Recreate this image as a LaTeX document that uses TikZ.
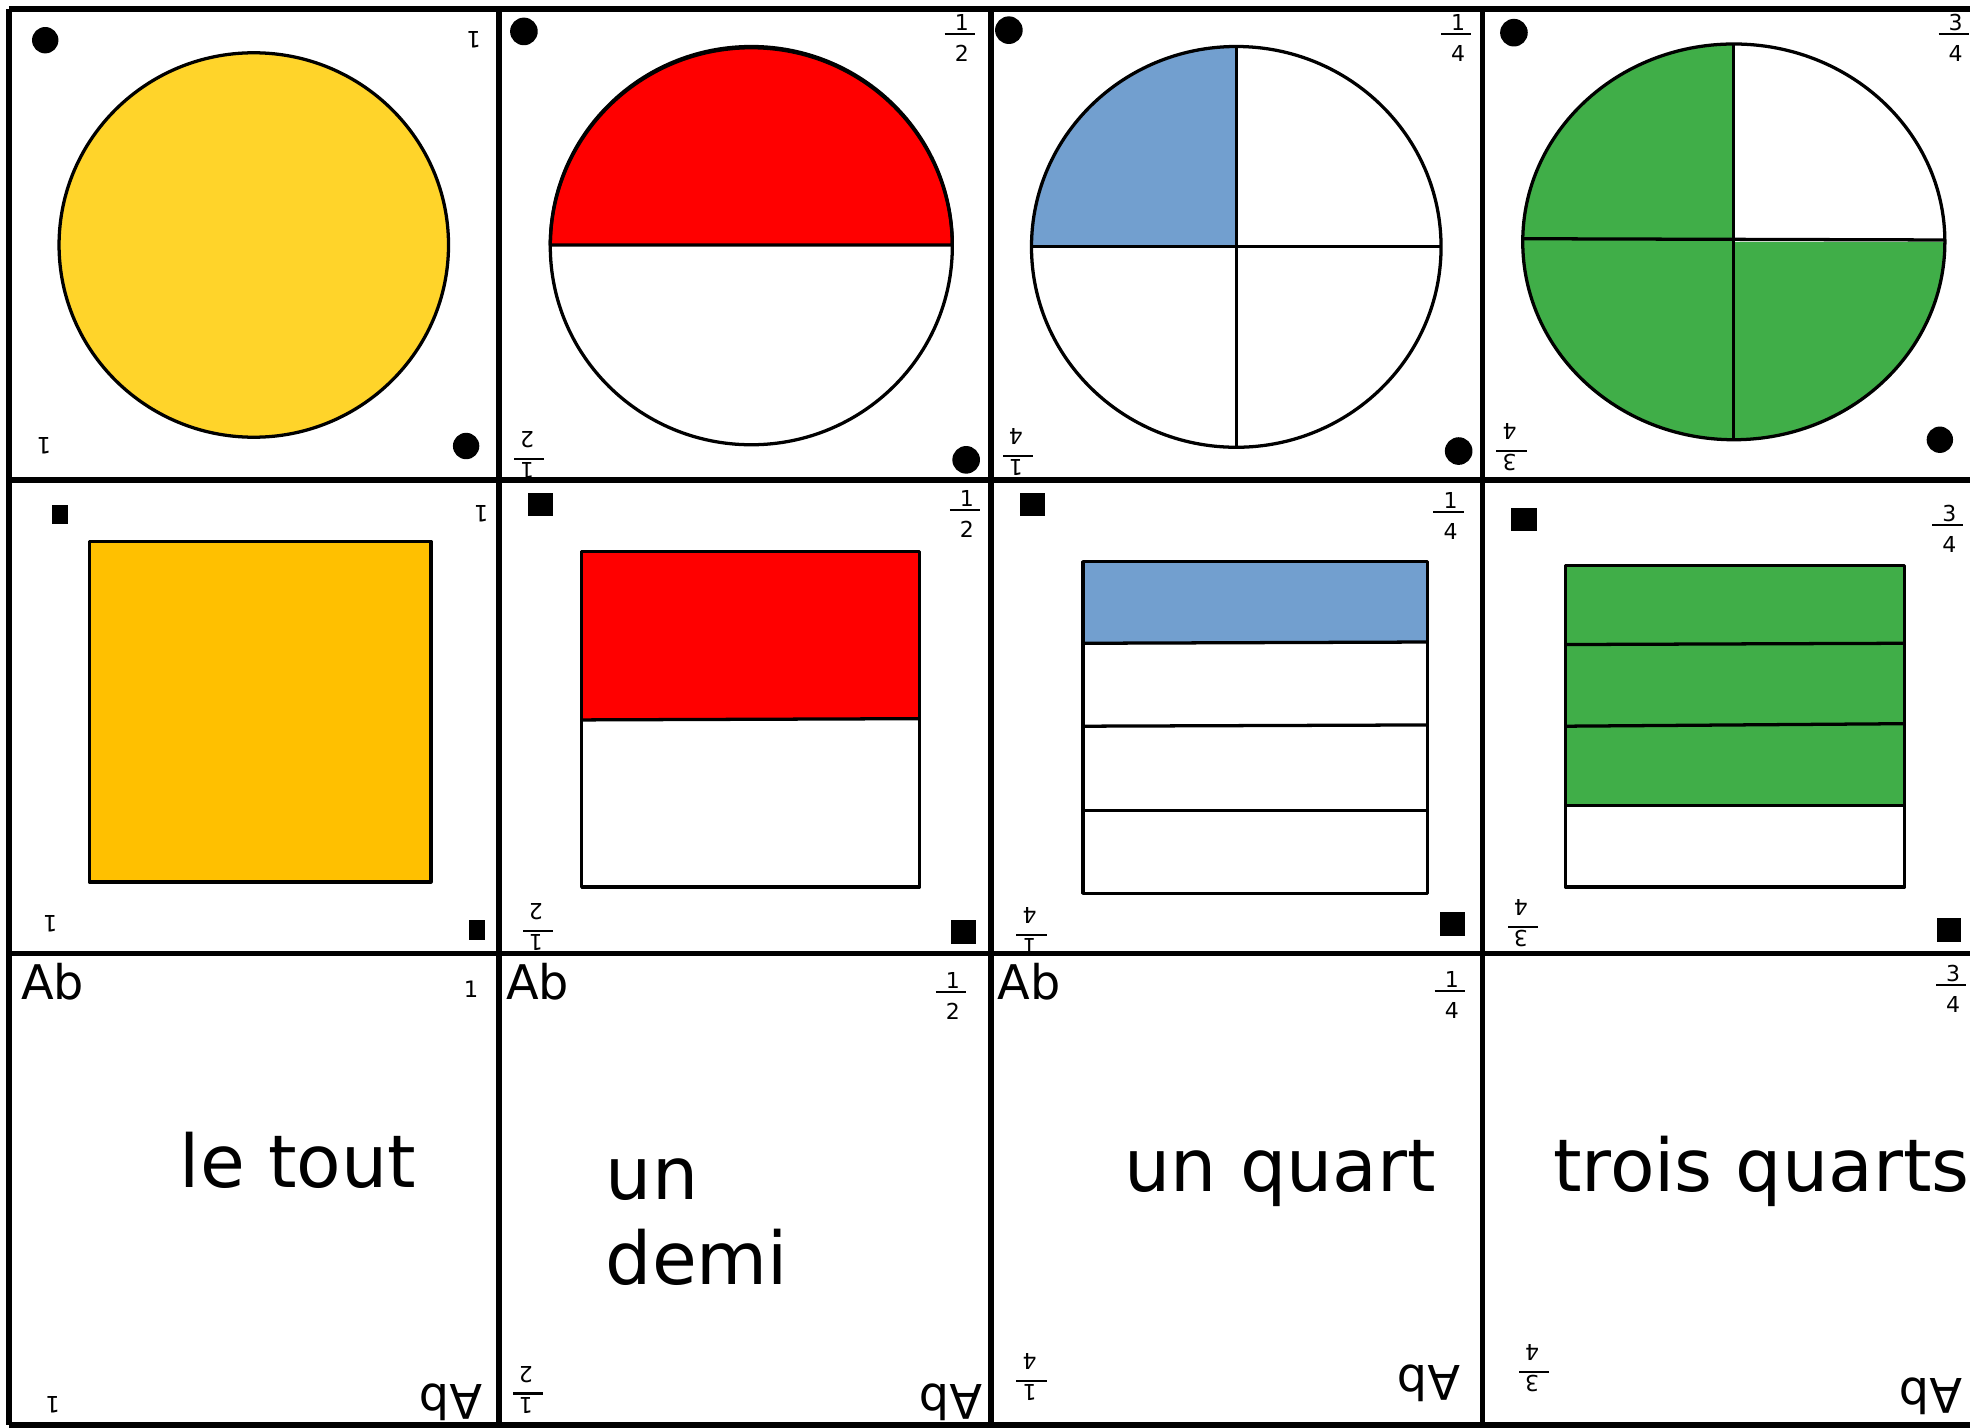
\documentclass[tikz,border=0pt]{standalone}
\usepackage{fontspec}
\setmainfont{DejaVu Sans}
\usepackage{array}
\definecolor{cyellow}{HTML}{FFD42A}
\definecolor{corange}{HTML}{FFC000}
\definecolor{cred}{HTML}{FF0000}
\definecolor{cblue}{HTML}{729FCF}
\definecolor{cgreen}{HTML}{40AE48}
\newcommand\fr[2]{{\setlength\arrayrulewidth{1.6pt}\renewcommand\arraystretch{0}\begin{tabular}{@{\hspace{8pt}}c@{\hspace{5pt}}}#1\\[2pt]\hline\rule{0pt}{21pt}#2\end{tabular}}}
\tikzset{
  gridline/.style={line width=4.6pt},
  shp/.style={draw, line width=2.6pt, line join=round},
  one/.style={font=\fontsize{18}{18}\selectfont, inner sep=0pt},
  frc/.style={font=\fontsize{17.5}{17.5}\selectfont, inner sep=0pt},
  ab/.style={font=\fontsize{38}{40}\selectfont, inner sep=0pt},
  big/.style={font=\fontsize{58}{67}\selectfont, inner sep=0pt},
  upside/.style={rotate=180}
}
\begin{document}
\begin{tikzpicture}[x=1pt,y=-1pt]
\useasboundingbox (0,0) rectangle (1568,1136);
\clip (0,0) rectangle (1568,1136);
\fill[white] (0,0) rectangle (1568,1136);

% ---------- Row 1 : circles ----------
\draw[shp, fill=cyellow] (202,195) ellipse [x radius=155pt, y radius=153pt];
\fill (36,32) circle [radius=10.5pt];
\fill (371,355) circle [radius=10.5pt];
\node[one, upside] (r1c1a) at (377,32) {1};
\node[one, upside] (r1c1b) at (35,355) {1};

\draw[shp, fill=cred] (758,195) arc [start angle=0, end angle=180, x radius=160pt, y radius=158pt] -- cycle;
\draw[shp] (598,196) ellipse [x radius=160pt, y radius=158pt];
\fill (417,25) circle [radius=11pt];
\fill (769,366) circle [radius=11pt];
\node[frc] (r1c2a) at (764,30) {\fr{1}{2}};
\node[frc, upside] (r1c2b) at (421,362) {\fr{1}{2}};

\fill[cblue] (984,196.5) -- (984,37) arc [start angle=90, end angle=180, x radius=163pt, y radius=159.5pt] -- cycle;
\draw[shp] (984,196.5) ellipse [x radius=163pt, y radius=159.5pt];
\draw[shp] (984,37) -- (984,356);
\draw[shp] (821,196) -- (1147,196);
\fill (803,24) circle [radius=11pt];
\fill (1161,359) circle [radius=11pt];
\node[frc] (r1c3a) at (1159,30) {\fr{1}{4}};
\node[frc, upside] (r1c3b) at (810,360) {\fr{1}{4}};

\fill[cgreen] (1380,192.5) -- (1380,35) arc [start angle=90, end angle=360, x radius=168pt, y radius=157.5pt] -- cycle;
\draw[shp] (1380,192.5) ellipse [x radius=168pt, y radius=157.5pt];
\draw[shp] (1380,35) -- (1380,350);
\draw[shp] (1212,190) -- (1548,191);
\fill (1205,26) circle [radius=11pt];
\fill (1544,350) circle [radius=10.5pt];
\node[frc] (r1c4a) at (1555,30) {\fr{3}{4}};
\node[frc, upside] (r1c4b) at (1203,356) {\fr{3}{4}};

% ---------- Row 2 : rectangles ----------
\draw[shp, fill=corange] (71,431) rectangle (343,702);
\fill (41,402) rectangle (54,417);
\fill (373,732) rectangle (386,748);
\node[one, upside] (r2c1a) at (383,409) {1};
\node[one, upside] (r2c1b) at (40,735) {1};

\fill[cred] (463,439) rectangle (732,572);
\draw[shp] (463,439) rectangle (732,706);
\draw[shp] (463,573) -- (732,572);
\fill (420,392) rectangle (440,411);
\fill (757,732) rectangle (777,751);
\node[frc] (r2c2a) at (768,409) {\fr{1}{2}};
\node[frc, upside] (r2c2b) at (428,738) {\fr{1}{2}};

\fill[cblue] (862,447) rectangle (1136,512);
\draw[shp] (862,447) rectangle (1136,711);
\draw[shp] (862,512) -- (1136,511);
\draw[shp] (862,578) -- (1136,577);
\draw[shp] (862,645) -- (1136,645);
\fill (812,392) rectangle (832,411);
\fill (1146,726) rectangle (1166,745);
\node[frc] (r2c3a) at (1153,411) {\fr{1}{4}};
\node[frc, upside] (r2c3b) at (821,741) {\fr{1}{4}};

\fill[cgreen] (1246,450) rectangle (1516,641);
\draw[shp] (1246,450) rectangle (1516,706);
\draw[shp] (1246,513) -- (1516,512);
\draw[shp] (1246,578) -- (1516,576);
\draw[shp] (1246,641) -- (1516,641);
\fill (1203,404) rectangle (1223,423);
\fill (1542,731) rectangle (1561,750);
\node[frc] (r2c4a) at (1550,421) {\fr{3}{4}};
\node[frc, upside] (r2c4b) at (1212,735) {\fr{3}{4}};

% ---------- Row 3 : words ----------
\node[ab] (r3c1ab) at (42,781) {Ab};
\node[one] (r3c1a) at (375,787) {1};
\node[big, anchor=base west] (r3c1t) at (143,945) {le tout};
\node[one, upside] (r3c1b) at (42,1118) {1};
\node[ab, upside] (r3c1ba) at (359,1116) {Ab};

\node[ab] (r3c2ab) at (428,781) {Ab};
\node[frc] (r3c2a) at (757,793) {\fr{1}{2}};
\node[big, anchor=base west] (r3c2t1) at (482,955) {un};
\node[big, anchor=base west] (r3c2t2) at (482,1022) {demi};
\node[frc, upside] (r3c2b) at (420,1106) {\fr{1}{2}};
\node[ab, upside] (r3c2ba) at (757,1116) {Ab};

\node[ab] (r3c3ab) at (819,781) {Ab};
\node[frc] (r3c3a) at (1154,792) {\fr{1}{4}};
\node[big, anchor=base west] (r3c3t) at (895,948) {un quart};
\node[frc, upside] (r3c3b) at (821,1096) {\fr{1}{4}};
\node[ab, upside] (r3c3ba) at (1137,1101) {Ab};

\node[frc] (r3c4a) at (1553,787) {\fr{3}{4}};
\node[big, anchor=base west] (r3c4t) at (1236,948) {trois quarts};
\node[frc, upside] (r3c4b) at (1221,1089) {\fr{3}{4}};
\node[ab, upside] (r3c4ba) at (1537,1111) {Ab};

% ---------- grid ----------
\foreach \x in {7,397,789,1180,1571} \draw[gridline] (\x,7) -- (\x,1134);
\foreach \y in {7,382,759,1134} \draw[gridline] (7,\y) -- (1571,\y);
\end{tikzpicture}
\end{document}
